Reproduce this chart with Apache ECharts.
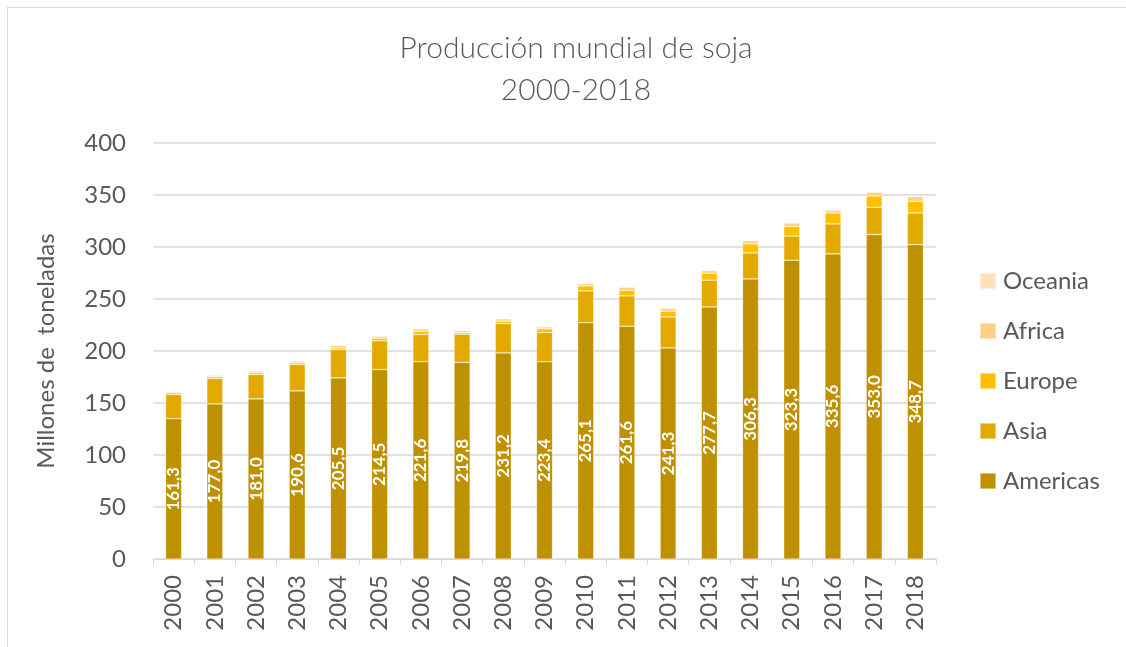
<!DOCTYPE html>
<html>
<head>
<meta charset="utf-8">
<script src="https://cdn.jsdelivr.net/npm/echarts@6/dist/echarts.min.js"></script>
<style>
html,body{margin:0;padding:0;background:#fff;}
#frame{position:absolute;left:7px;top:7px;width:1200px;height:700px;border-left:1px solid #d9d9d9;border-top:1px solid #d9d9d9;}
#main{position:absolute;left:0;top:0;width:1126px;height:647px;}
</style>
</head>
<body>
<div id="frame"></div>
<div id="main"></div>
<script>
const years = ['2000','2001','2002','2003','2004','2005','2006','2007','2008','2009','2010','2011','2012','2013','2014','2015','2016','2017','2018'];
const americas = [134.8,149.2,154.0,161.7,174.2,182.2,189.6,189.0,198.2,189.6,227.1,223.9,203.0,242.4,269.3,287.3,293.4,311.9,302.3];
const asia     = [23.4,24.4,23.4,25.3,27.2,27.6,26.3,27.2,28.2,28.2,30.7,29.1,29.8,25.7,25.0,23.3,28.8,26.3,30.4];
const europe   = [1.6,1.6,1.6,1.6,1.6,2.5,3.1,1.6,2.3,3.5,4.8,5.4,5.5,6.7,8.7,9.3,10.5,10.9,11.2];
const africa   = [1.3,1.6,1.8,1.8,2.3,2.0,2.4,1.8,2.3,1.9,2.3,3.0,2.8,2.7,3.1,3.2,2.7,3.7,4.6];
const oceania  = [0.2,0.2,0.2,0.2,0.2,0.2,0.2,0.2,0.2,0.2,0.2,0.2,0.2,0.2,0.2,0.2,0.2,0.2,0.2];
const totals   = [161.3,177.0,181.0,190.6,205.5,214.5,221.6,219.8,231.2,223.4,265.1,261.6,241.3,277.7,306.3,323.3,335.6,353.0,348.7];
const yTicks = [0,50,100,150,200,250,300,350,400];

const colors = {Americas:'#BF9000', Asia:'#E2AA00', Europe:'#FFC000', Africa:'#FFD08A', Oceania:'#FFE0BA'};
const FONT = 'Lato, "Open Sans", sans-serif';
const chart = echarts.init(document.getElementById('main'));

function mk(name, data, label) {
  const s = {
    name: name, type: 'bar', stack: 'total', data: data,
    barWidth: 16,
    itemStyle: {color: colors[name], borderColor: 'rgba(255,255,255,0.45)', borderWidth: 0.6},
    emphasis: {disabled: true}
  };
  if (label) {
    s.label = {
      show: true, position: 'inside', rotate: 90,
      color: '#ffffff', fontWeight: 'bold', fontSize: 17, fontFamily: FONT,
      formatter: p => totals[p.dataIndex].toFixed(1).replace('.', ',')
    };
  }
  return s;
}

chart.setOption({
  animation: false,
  textStyle: {fontFamily: FONT},
  title: {
    text: 'Producción mundial de soja\n2000-2018',
    left: 571, top: 22, textAlign: 'center',
    textStyle: {fontFamily: FONT, fontWeight: 300, fontSize: 30, color: '#595959', lineHeight: 42}
  },
  legend: {
    orient: 'vertical', left: 979, top: 269, padding: 0,
    data: ['Oceania','Africa','Europe','Asia','Americas'],
    itemWidth: 16, itemHeight: 16, itemGap: 26,
    icon: 'rect',
    textStyle: {fontFamily: FONT, fontSize: 24, color: '#595959', padding: [0,0,0,2], lineHeight: 24}
  },
  grid: {left: 153, right: 190, top: 143, bottom: 88},
  xAxis: {
    type: 'category', data: years,
    axisLine: {show: true, lineStyle: {color: '#d9d9d9', width: 1}},
    axisTick: {show: true, length: 6, lineStyle: {color: '#d9d9d9'}},
    axisLabel: {rotate: 90, fontSize: 24, color: '#595959', fontFamily: FONT, margin: 16}
  },
  yAxis: {
    type: 'value', min: yTicks[0], max: yTicks[yTicks.length-1], interval: 50,
    name: 'Millones de  toneladas', nameLocation: 'middle', nameGap: 95, nameRotate: 90,
    nameTextStyle: {fontSize: 24, color: '#595959', fontFamily: FONT},
    axisLine: {show: false}, axisTick: {show: false},
    axisLabel: {fontSize: 24, color: '#595959', fontFamily: FONT, margin: 27},
    splitLine: {lineStyle: {color: '#d9d9d9', width: 1.5}}
  },
  series: [
    mk('Americas', americas, true),
    mk('Asia', asia),
    mk('Europe', europe),
    mk('Africa', africa),
    mk('Oceania', oceania)
  ]
});
</script>
</body>
</html>
